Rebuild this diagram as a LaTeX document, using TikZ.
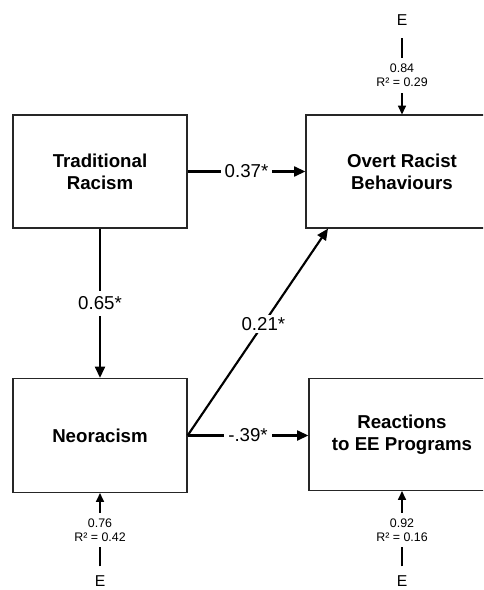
\documentclass[tikz,border=0pt]{standalone}
\usepackage{fontspec}
\setmainfont{Liberation Sans}
\usetikzlibrary{arrows.meta}
\begin{document}
\begin{tikzpicture}[x=0.75pt,y=-0.75pt,
  box/.style={draw=black!85, line width=0.9pt, rectangle, align=center,
    font=\fontsize{14}{16.5}\selectfont\bfseries, inner sep=0pt},
  pathar/.style={line width=1.6pt, -{Triangle[length=8.5pt,width=7.5pt]}},
  coef/.style={fill=white, font=\fontsize{14}{16.5}\selectfont, inner xsep=3pt, inner ysep=4.4pt},
  err/.style={line width=1pt, -{Triangle[length=6.5pt,width=6pt]}},
  elabel/.style={fill=white, align=center, font=\fontsize{9.3}{10.5}\selectfont,
    inner xsep=1pt, inner ysep=4.3pt},
  enode/.style={font=\fontsize{11.8}{13}\selectfont, inner sep=0pt}
]
\useasboundingbox (0,0) rectangle (483,590);
\clip (0,0) rectangle (483,590);
\fill[white] (0,0) rectangle (483,590);

\node[box, minimum width=130.5pt, minimum height=84.75pt] (tr) at (100,171.5) {Traditional\\Racism};
\node[box, minimum width=144pt, minimum height=84.75pt] (ov) at (402,171.5) {Overt Racist\\Behaviours};
\node[box, minimum width=130.5pt, minimum height=85.5pt] (ne) at (100,435.5) {Neoracism};
\node[box, minimum width=139.5pt, minimum height=84pt] (re) at (402,434.5) {Reactions\\to EE Programs};

\draw[pathar] (tr) -- node[coef]{0.37*} (ov);
\draw[pathar] (tr) -- node[coef]{0.65*} (ne);
\draw[pathar] (ne.east) -- node[coef]{-.39*} (ne.east -| re.west);
\draw[pathar] (ne.east) -- node[coef, inner ysep=2pt, pos=0.54]{0.21*} ([xshift=-55.5pt]ov.south);

\node[enode] (e1) at (402,20.5) {E};
\node[enode] (e2) at (100,581.5) {E};
\node[enode] (e3) at (402,581.5) {E};

\draw[err, shorten <=9pt] (e1) -- node[elabel, pos=0.56]{0.84\\R² = 0.29} (ov);
\draw[err, shorten <=7pt] (e2) -- node[elabel, pos=0.55]{0.76\\R² = 0.42} (ne);
\draw[err, shorten <=7pt] (e3) -- node[elabel, pos=0.54]{0.92\\R² = 0.16} (re);
\end{tikzpicture}
\end{document}
